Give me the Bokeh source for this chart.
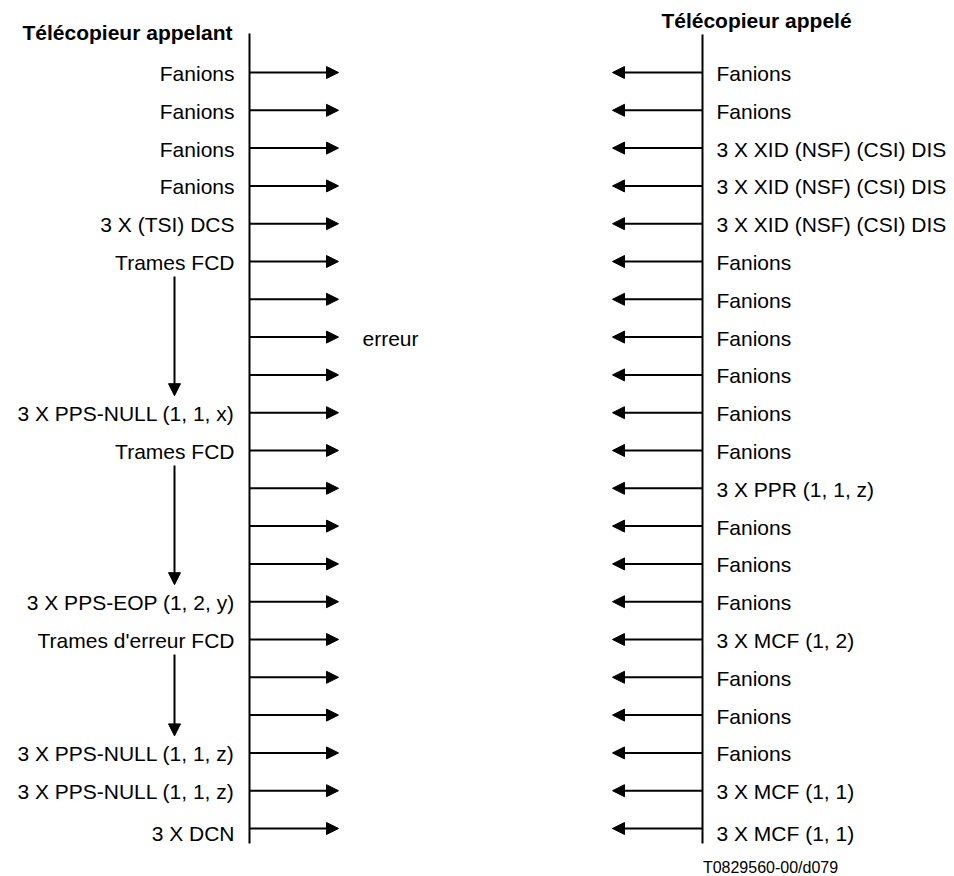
from bokeh.plotting import figure
from bokeh.models import Range1d, ColumnDataSource, Arrow, NormalHead
from bokeh.core.properties import value
from bokeh.embed import file_html
from bokeh.resources import INLINE

# ---------------- data ----------------
rows = list(range(21))
left_labels = [
    "Fanions", "Fanions", "Fanions", "Fanions", "3 X (TSI) DCS",
    "Trames FCD", "", "", "", "3 X PPS-NULL (1, 1, x)",
    "Trames FCD", "", "", "", "3 X PPS-EOP (1, 2, y)",
    "Trames d'erreur FCD", "", "", "3 X PPS-NULL (1, 1, z)",
    "3 X PPS-NULL (1, 1, z)", "3 X DCN",
]
right_labels = [
    "Fanions", "Fanions", "3 X XID (NSF) (CSI) DIS", "3 X XID (NSF) (CSI) DIS",
    "3 X XID (NSF) (CSI) DIS", "Fanions", "Fanions", "Fanions", "Fanions",
    "Fanions", "Fanions", "3 X PPR (1, 1, z)", "Fanions", "Fanions", "Fanions",
    "3 X MCF (1, 2)", "Fanions", "Fanions", "Fanions", "3 X MCF (1, 1)",
    "3 X MCF (1, 1)",
]
title_left = "Télécopieur appelant"
title_right = "Télécopieur appelé"
error_text = ["erreur"]
error_rows = [7]
flow_from = [5, 10, 15]
flow_to = [9, 14, 18]
figure_ref = ["T0829560-00/d079"]

# ---------------- layout ----------------
W, H = 954, 876
Y0, DY = 72.0, 37.8          # pixel of row 0 and row spacing


def row_of(px):
    return (px - Y0) / DY


FONT = value("Liberation Sans")
X_LEFT_LINE, X_RIGHT_LINE = 249, 702
X_LEFT_TIP, X_RIGHT_TIP = 338, 612
LAST_ROW_NUDGE = 4   # last row labels sit slightly lower in the original

p = figure(width=W, height=H, x_range=Range1d(0, W),
           y_range=Range1d(row_of(H), row_of(0)),
           output_backend="svg", toolbar_location=None,
           x_axis_location=None, y_axis_location=None, min_border=0)
p.grid.visible = False
p.outline_line_color = None
p.background_fill_color = "white"
p.border_fill_color = "white"

# timelines
p.segment(x0=[X_LEFT_LINE, X_RIGHT_LINE], y0=[row_of(33), row_of(34)],
          x1=[X_LEFT_LINE, X_RIGHT_LINE], y1=[row_of(843), row_of(843)],
          line_color="black", line_width=2)

# horizontal arrows
n = len(rows)
left_src = ColumnDataSource(dict(x0=[X_LEFT_LINE] * n, x1=[X_LEFT_TIP] * n, y=rows))
right_src = ColumnDataSource(dict(x0=[X_RIGHT_LINE] * n, x1=[X_RIGHT_TIP] * n, y=rows))
for src in (left_src, right_src):
    p.add_layout(Arrow(x_start="x0", y_start="y", x_end="x1", y_end="y", source=src,
                       line_color="black", line_width=2,
                       end=NormalHead(size=12, fill_color="black", line_color="black",
                                      line_width=1)))

# internal vertical flow arrows on the calling side
vsrc = ColumnDataSource(dict(x=[174] * len(flow_from),
                             y0=[r + 0.4 for r in flow_from],
                             y1=[r - 0.45 for r in flow_to]))
p.add_layout(Arrow(x_start="x", y_start="y0", x_end="x", y_end="y1", source=vsrc,
                   line_color="black", line_width=2,
                   end=NormalHead(size=12, fill_color="black", line_color="black",
                                  line_width=1)))

# labels
TXT = dict(text_font=FONT, text_font_size="21px", text_baseline="middle",
           text_color="black")
last = n - 1
p.text(x=[234] * last, y=rows[:last], text=left_labels[:last], text_align="right",
       y_offset=1, **TXT)
p.text(x=[234], y=rows[last:], text=left_labels[last:], text_align="right",
       y_offset=1 + LAST_ROW_NUDGE, **TXT)
p.text(x=[716] * last, y=rows[:last], text=right_labels[:last], text_align="left",
       y_offset=1, **TXT)
p.text(x=[716], y=rows[last:], text=right_labels[last:], text_align="left",
       y_offset=1 + LAST_ROW_NUDGE, **TXT)
p.text(x=[362], y=error_rows, text=error_text, text_align="left", y_offset=1, **TXT)

# titles
p.text(x=[22], y=[row_of(32)], text=[title_left], text_font_style="bold",
       text_align="left", **TXT)
p.text(x=[756], y=[row_of(20)], text=[title_right], text_font_style="bold",
       text_align="center", **TXT)

# figure reference
p.text(x=[770], y=[row_of(867)], text=figure_ref, text_font=FONT, text_font_size="16px",
       text_align="center", text_baseline="middle", text_color="black")

open("out.html", "w").write(file_html(p, INLINE))
